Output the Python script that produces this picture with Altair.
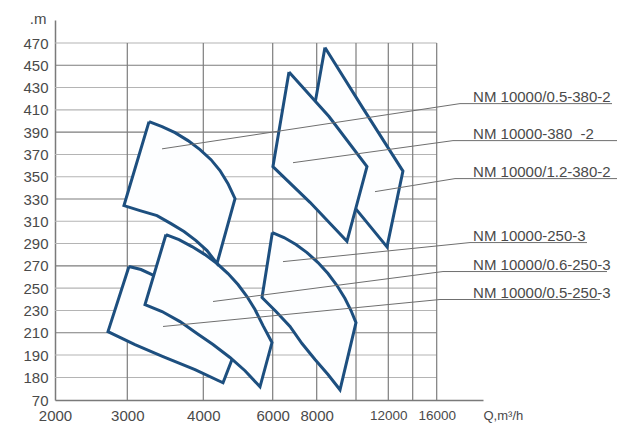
import altair as alt
import pandas as pd

# ---------------- data ----------------
x_ticks = [2000, 3000, 4000, 6000, 8000, 12000, 16000]
x_grid = [3000, 4000, 6000, 8000, 10000, 12000, 14000, 16000]
y_ticks = [70, 180, 190, 210, 230, 250, 270, 290, 310, 330, 350, 370, 390, 410, 430, 450, 470]
y_grid = [180, 190, 210, 230, 250, 270, 290, 310, 330, 350, 370, 390, 410, 430, 450, 470]
y_grid_dark = [210, 270, 330, 390, 450]

# non-uniform axis breakpoints of the original chart (value -> relative pixel)
x_domain = [2000, 3000, 4000, 6000, 8000, 10000, 12000, 14000, 16000, 20000]
x_range = [0, 72.3, 148.3, 217.7, 261.7, 301, 333.3, 357.7, 381.7, 428]
y_domain = [70, 180, 190, 470, 490]
y_range = [380, 357.5, 335, 23, 0]

# working fields (Q m3/h, H m), outline points in drawing order
names = ["NM 10000/0.5-250-3", "NM 10000/0.6-250-3", "NM 10000/0.5-380-2",
         "NM 10000/1.2-380-2", "NM 10000-380 -2", "NM 10000-250-3"]
q_e = [3022, 3180, 3325, 3509, 3759, 3957, 4251, 4539, 4827, 4568, 3891, 3470, 3101, 2733, 3022]
h_e = [269.4, 266.7, 262.2, 255.9, 246, 235.3, 221.8, 205.7, 188, 154, 183.5, 189.3, 199.4, 211, 269.4]
q_d = [3509, 3680, 3851, 4049, 4395, 4712, 5000, 5259, 5490, 5721, 5980,
       5634, 5202, 4769, 4280, 3917, 3694, 3457, 3233, 3509]
h_d = [298.1, 293.6, 287.3, 280.1, 272.1, 263.1, 253.2, 242.5, 230.8, 216.4, 201.2,
       134.4, 183, 188.9, 199.4, 209.3, 220, 229, 235.3, 298.1]
q_a = [3286, 3457, 3628, 3799, 3957, 4222, 4481, 4712, 4914,
       4395, 4107, 3904, 3746, 3575, 3391, 3167, 2954, 3286]
h_a = [399.4, 394.9, 389.5, 382.4, 374.3, 365.3, 355.5, 343.8, 330.4,
       272.1, 283.7, 292.7, 300.8, 307.9, 315.1, 319.6, 324.1, 399.4]
q_c = [8420, 10495, 13200, 11920, 9950, 7600, 8420]
h_c = [466, 410, 355, 287, 322, 380, 466]
q_b = [6740, 8626, 10680, 9540, 7695, 6010, 6740]
h_b = [444, 404, 359, 292, 327, 359, 444]
q_f = [5990, 6514, 7059, 7559, 8066, 8575, 9033, 9440, 9746, 10000,
       9186, 8575, 7923, 7332, 6786, 6150, 5692, 5990]
h_f = [299.9, 295.4, 289.1, 281.9, 273, 263.1, 252.3, 240.7, 229.9, 219.1,
       120, 181.3, 188, 200.3, 215.6, 229, 241.6, 299.9]
poly_q = [q_e, q_d, q_a, q_c, q_b, q_f]
poly_h = [h_e, h_d, h_a, h_c, h_b, h_f]

# leader lines: start inside field -> bend -> end of underline
lead_q = [[3470, 16285, 30109], [4280, 16544, 30714], [3457, 18013, 31146],
          [11176, 17581, 31578], [6923, 17408, 31578], [6468, 18877, 28986]]
lead_h = [[215.6, 239.8, 239.8], [238, 264.9, 264.9], [375, 415.6, 415.6],
          [336.6, 348.3, 348.3], [362.6, 382.4, 382.4], [273.8, 290.9, 290.9]]
label_text = ["NM 10000/0.5-250-3", "NM 10000/0.6-250-3", "NM 10000/0.5-380-2",
              "NM 10000/1.2-380-2", "NM 10000-380\u00a0 -2", "NM 10000-250-3"]
label_q = 19140

# ---------------- chart ----------------
FONT = "Liberation Sans"
TXT = "#4a4a4a"
xs = alt.Scale(type="linear", domain=x_domain, range=x_range, nice=False, zero=False)
ys = alt.Scale(type="linear", domain=y_domain, range=y_range, nice=False, zero=False)

xaxis = alt.Axis(values=x_ticks, format="d", grid=False, ticks=False, labelPadding=8,
                 labelFont=FONT, labelColor=TXT,
                 labelFontSize={"condition": {"test": "datum.value >= 12000", "value": 13.5}, "value": 15},
                 domainColor="#7a7a7a", domainWidth=1.5,
                 title="Q,m\u00b3/h", titleFont=FONT, titleFontSize=13, titleFontWeight="normal",
                 titleColor=TXT, titleAngle=0, titleAlign="left", titleBaseline="alphabetic",
                 titleX=428, titleY=19, labelFlush=False, labelOverlap=False)
yaxis = alt.Axis(values=y_ticks, format="d", grid=False, ticks=False, labelPadding=7,
                 labelFont=FONT, labelFontSize=15, labelColor=TXT,
                 domainColor="#7a7a7a", domainWidth=1.5,
                 title=".m", titleFont=FONT, titleFontSize=15, titleFontWeight="normal",
                 titleColor=TXT, titleAngle=0, titleAlign="right", titleBaseline="alphabetic",
                 titleX=-9, titleY=3, labelOverlap=False, labelFlush=False)


def X(field):
    return alt.X(field, scale=xs, axis=xaxis)


def Y(field):
    return alt.Y(field, scale=ys, axis=yaxis)


hgrid = pd.DataFrame({"q": 2000, "q1": 16000, "h": y_grid,
                      "dark": [v in y_grid_dark for v in y_grid]})
vgrid = pd.DataFrame({"q": x_grid, "h": 70, "h1": 470})

hlayer = alt.Chart(hgrid).mark_rule(strokeWidth=1.1).encode(
    x=X("q:Q"), x2="q1:Q", y=Y("h:Q"),
    color=alt.condition("datum.dark", alt.value("#7d7d7d"), alt.value("#b4b4b4")),
)
vlayer = alt.Chart(vgrid).mark_rule(strokeWidth=1.2, color="#7d7d7d").encode(
    x=X("q:Q"), y=Y("h:Q"), y2="h1:Q",
)

layers = [hlayer, vlayer]
for k, name in enumerate(names):
    df = pd.DataFrame({"q": poly_q[k], "h": poly_h[k], "i": list(range(len(poly_q[k])))})
    layers.append(
        alt.Chart(df).mark_line(fill="#fdfeff", stroke="#1d4f7f", strokeWidth=3,
                                strokeJoin="miter").encode(
            x=X("q:Q"), y=Y("h:Q"), order="i:Q",
        )
    )

rows = []
for k in range(len(lead_q)):
    for j in range(3):
        rows.append({"g": k, "i": j, "q": lead_q[k][j], "h": lead_h[k][j]})
leaders = pd.DataFrame(rows)
layers.append(
    alt.Chart(leaders).mark_line(color="#6f6f6f", strokeWidth=1).encode(
        x=X("q:Q"), y=Y("h:Q"), detail="g:N", order="i:Q",
    )
)
labels = pd.DataFrame({"t": label_text, "q": label_q, "h": [lh[2] for lh in lead_h]})
layers.append(
    alt.Chart(labels).mark_text(align="left", baseline="alphabetic", dy=-2, font=FONT,
                                fontSize=15, color=TXT).encode(
        x=X("q:Q"), y=Y("h:Q"), text="t:N",
    )
)

chart = alt.layer(*layers).properties(
    width=428, height=380,
    autosize=alt.AutoSizeParams(type="none"),
    padding={"left": 47, "top": 12, "right": 140, "bottom": 23},
    background="white",
).configure_view(stroke=None)

chart.save("out.html", embed_options={"renderer": "svg", "actions": False})
